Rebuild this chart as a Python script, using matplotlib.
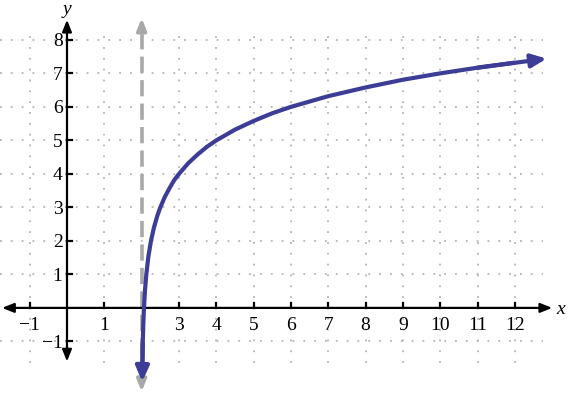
import matplotlib
matplotlib.use("Agg")
import matplotlib.pyplot as plt

# Data
curve_x = [2.014, 2.02, 2.03, 2.045, 2.06, 2.09, 2.125, 2.18, 2.25, 2.33, 2.42, 2.5, 2.62, 2.75, 2.87,
           3.0, 3.25, 3.5, 3.75, 4.0, 4.5, 5.0, 5.5, 6.0, 7.0, 8.0, 9.0, 10.0, 11.0, 12.0, 12.85]
curve_y = [-2.2, -1.64, -1.06, -0.47, -0.06, 0.53, 1.0, 1.53, 2.0, 2.4, 2.75, 3.0, 3.31, 3.58, 3.81,
           4.0, 4.32, 4.58, 4.81, 5.0, 5.32, 5.58, 5.81, 6.0, 6.32, 6.58, 6.81, 7.0, 7.17, 7.32, 7.44]
asymptote_x = 2
x_ticks = [-1, 1, 3, 4, 5, 6, 7, 8, 9, 10, 11, 12]
y_ticks = [-1, 1, 2, 3, 4, 5, 6, 7, 8]
grid_x = [-1, 1, 3, 4, 5, 6, 7, 8, 9, 10, 11, 12]
grid_y = [-1, 1, 2, 3, 4, 5, 6, 7, 8]

plt.rcParams["font.family"] = ["Liberation Serif", "DejaVu Serif"]

fig = plt.figure(figsize=(5.69, 3.93), dpi=100)
ax = fig.add_axes([0, 0, 1, 1])
ax.set_xlim(-1.795, 13.45)
ax.set_ylim(-2.54, 9.19)
ax.axis("off")

fs = 14
grid_color = "#b4b4b4"
dots = (0, (1, 5))

# grid
for gx in grid_x:
    ax.plot([gx, gx], [-1.64, 8.36], color=grid_color, lw=1.3, ls=dots, zorder=1)
for gy in grid_y:
    ax.plot([-1.79, 12.75], [gy, gy], color=grid_color, lw=1.3, ls=dots, zorder=1)

# axes with arrows
ax.annotate("", xy=(13.0, 0), xytext=(-1.74, 0),
            arrowprops=dict(arrowstyle="<|-|>,head_length=0.7,head_width=0.28", color="black", lw=1.6,
                            shrinkA=0, shrinkB=0), zorder=3)
ax.annotate("", xy=(0, 8.6), xytext=(0, -1.6),
            arrowprops=dict(arrowstyle="<|-|>,head_length=0.7,head_width=0.28", color="black", lw=1.6,
                            shrinkA=0, shrinkB=0), zorder=3)

# ticks
for t in x_ticks:
    ax.plot([t, t], [0, 0.16], color="black", lw=1.6, zorder=3)
    ax.text(t, -0.28, ("\u2212" + str(-t)) if t < 0 else str(t), ha="center", va="top",
            fontsize=fs)
for t in y_ticks:
    ax.plot([0, 0.14], [t, t], color="black", lw=1.6, zorder=3)
    ax.text(-0.12, t - 0.05, ("\u2212" + str(-t)) if t < 0 else str(t), ha="right", va="center",
            fontsize=fs)

ax.text(0.0, 9.15, "y", ha="center", va="top", style="italic", fontsize=fs)
ax.text(13.22, -0.05, "x", ha="center", va="center", style="italic", fontsize=fs)

# asymptote
gray = "#a8a8a8"
ax.plot([asymptote_x, asymptote_x], [-2.1, 8.45], color=gray, lw=2.6, ls=(0, (4.5, 2)), zorder=2)
ax.annotate("", xy=(asymptote_x, 8.65), xytext=(asymptote_x, 8.2),
            arrowprops=dict(arrowstyle="-|>,head_length=0.7,head_width=0.28", color=gray, lw=2.6,
                            shrinkA=0, shrinkB=0), zorder=2)
ax.annotate("", xy=(asymptote_x, -2.5), xytext=(asymptote_x, -2.0),
            arrowprops=dict(arrowstyle="-|>,head_length=0.7,head_width=0.28", color=gray, lw=2.6,
                            shrinkA=0, shrinkB=0), zorder=2)

# curve
blue = "#3d3d98"
ax.plot(curve_x[1:-1], curve_y[1:-1], color=blue, lw=3.0, solid_capstyle="butt", zorder=4)
ax.annotate("", xy=(curve_x[0], curve_y[0]), xytext=(curve_x[2], curve_y[2]),
            arrowprops=dict(arrowstyle="-|>,head_length=0.9,head_width=0.4", color=blue, lw=3.0,
                            shrinkA=0, shrinkB=0), zorder=4)
ax.annotate("", xy=(curve_x[-1], curve_y[-1]), xytext=(curve_x[-3], curve_y[-3]),
            arrowprops=dict(arrowstyle="-|>,head_length=0.9,head_width=0.4", color=blue, lw=3.0,
                            shrinkA=0, shrinkB=0), zorder=4)

fig.savefig("out.png", dpi=100)
